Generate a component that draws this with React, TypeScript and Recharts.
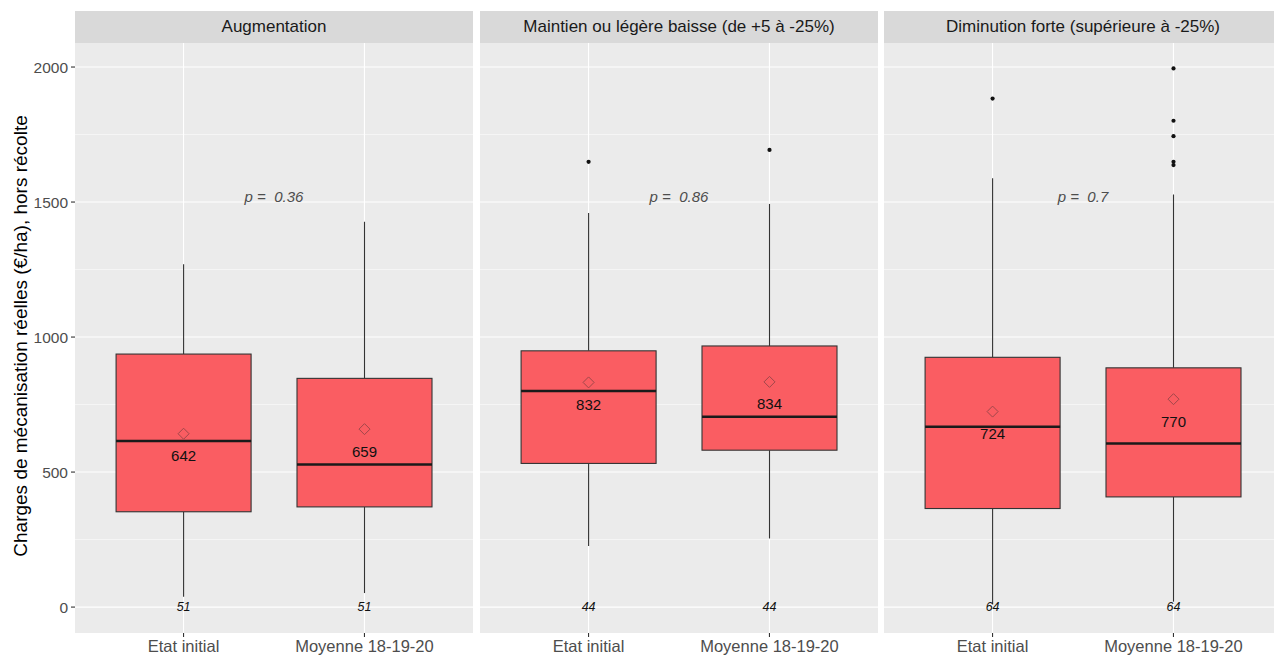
import React from 'react';
import { ComposedChart, Bar, XAxis, YAxis, CartesianGrid, ReferenceDot } from 'recharts';

// ---------- data ----------
const facets = [
  'Augmentation',
  'Maintien ou légère baisse (de +5 à -25%)',
  'Diminution forte (supérieure à -25%)',
];
const categories = ['Etat initial', 'Moyenne 18-19-20'];
const positions = [1, 2];

const whiskerLow = [[38, 52], [226, 254], [10, 20]];
const q1 = [[353, 371], [532, 581], [365, 408]];
const median = [[615, 528], [800, 705], [668, 606]];
const q3 = [[937, 847], [949, 967], [925, 886]];
const whiskerHigh = [[1270, 1427], [1459, 1493], [1588, 1528]];
const means = [[642, 659], [832, 834], [724, 770]];
const counts = [[51, 51], [44, 44], [64, 64]];
const outliers = [
  [[], []],
  [[1649], [1693]],
  [[1883], [1995, 1801, 1744, 1649, 1637]],
];
const pValues = ['0.36', '0.86', '0.7'];
const pLabelY = 1520;

const yTicks = [0, 500, 1000, 1500, 2000];
const yMinor = [250, 750, 1250, 1750];
const yDomain: [number, number] = [-96, 2089];
const xDomain: [number, number] = [0.4, 2.6];

// ---------- layout ----------
const FONT = '"Liberation Sans", Arial, Helvetica, sans-serif';
const panelLefts = [75, 480, 884];
const panelWidth = 398;
const plotTop = 43;
const xAxisHeight = 25;
const yAxisWidth = 75;
const chartHeight = 658;

const BOX_FILL = '#FA5D62';
const LINE = '#333333';

function buildRows(f: number) {
  return categories.map((c, i) => ({
    pos: positions[i],
    category: c,
    range: [whiskerLow[f][i], whiskerHigh[f][i]],
    low: whiskerLow[f][i],
    high: whiskerHigh[f][i],
    q1: q1[f][i],
    q3: q3[f][i],
    median: median[f][i],
    mean: means[f][i],
    n: counts[f][i],
    outliers: outliers[f][i],
  }));
}

const BoxShape = (props: any) => {
  const { x, y, width, height, payload } = props;
  if (!payload || x == null || y == null) return null;
  const top = Math.min(y, y + height);
  const bottom = Math.max(y, y + height);
  const lo = payload.low;
  const hi = payload.high;
  const py = (v: number) => bottom - ((bottom - top) * (v - lo)) / (hi - lo);
  const cx = x + width / 2;
  const yq1 = py(payload.q1);
  const yq3 = py(payload.q3);
  const ym = py(payload.median);
  const ymean = py(payload.mean);
  const y0 = py(0);
  const d = 5.5;
  return (
    <g>
      <line x1={cx} x2={cx} y1={py(hi)} y2={yq3} stroke={LINE} strokeWidth={1.1} />
      <line x1={cx} x2={cx} y1={yq1} y2={py(lo)} stroke={LINE} strokeWidth={1.1} />
      <rect x={x} y={yq3} width={width} height={yq1 - yq3} fill={BOX_FILL} stroke={LINE} strokeWidth={1.1} />
      <line x1={x} x2={x + width} y1={ym} y2={ym} stroke="#1A1A1A" strokeWidth={2.6} />
      {payload.outliers.map((o: number, k: number) => (
        <circle key={k} cx={cx} cy={py(o)} r={2.1} fill="#111111" />
      ))}
      <path
        d={`M${cx},${ymean - d} L${cx + d},${ymean} L${cx},${ymean + d} L${cx - d},${ymean} Z`}
        fill="none"
        stroke="#A0474A"
        strokeWidth={1}
      />
      <text
        x={cx}
        y={ymean + 22}
        textAnchor="middle"
        dominantBaseline="central"
        fontSize={15}
        fontFamily={FONT}
        fill="#111111"
      >
        {Math.round(payload.mean)}
      </text>
      <text
        x={cx}
        y={y0}
        textAnchor="middle"
        dominantBaseline="central"
        fontSize={12.5}
        fontStyle="italic"
        fontFamily={FONT}
        fill="#111111"
      >
        {payload.n}
      </text>
    </g>
  );
};

const PText = (label: string) => (props: any) => {
  const { cx, cy } = props;
  if (cx == null || cy == null) return null;
  return (
    <text
      x={cx}
      y={cy}
      textAnchor="middle"
      dominantBaseline="central"
      fontSize={15}
      fontStyle="italic"
      fontFamily={FONT}
      fill="#4D4D4D"
      style={{ whiteSpace: 'pre' }}
    >
      {`p = \u00a0${label}`}
    </text>
  );
};

function Panel({ f }: { f: number }) {
  const withY = f === 0;
  const rows = buildRows(f);
  const width = panelWidth + (withY ? yAxisWidth : 0);
  const left = withY ? panelLefts[0] - yAxisWidth : panelLefts[f];
  return (
    <div style={{ position: 'absolute', left, top: 0, width, height: chartHeight }}>
      <ComposedChart
        width={width}
        height={chartHeight}
        data={rows}
        margin={{ top: plotTop, right: 0, bottom: 0, left: 0 }}
      >
        <CartesianGrid
          fill="#EBEBEB"
          stroke="#FFFFFF"
          strokeWidth={0.55}
          horizontalValues={yMinor}
          vertical={false}
        />
        <CartesianGrid stroke="#FFFFFF" strokeWidth={1.1} horizontalValues={yTicks} verticalValues={positions} />
        <XAxis
          dataKey="pos"
          type="number"
          domain={xDomain}
          ticks={positions}
          interval={0}
          allowDataOverflow
          tickFormatter={(v: number) => categories[positions.indexOf(v)] ?? ''}
          axisLine={false}
          tickLine={{ stroke: LINE, strokeWidth: 1.1 }}
          tickSize={4}
          tickMargin={3}
          height={xAxisHeight}
          tick={{ fill: '#4D4D4D', fontSize: 16.5, fontFamily: FONT }}
        />
        <YAxis
          type="number"
          domain={yDomain}
          ticks={yTicks}
          interval={0}
          allowDataOverflow
          hide={!withY}
          width={yAxisWidth}
          axisLine={false}
          tickLine={{ stroke: LINE, strokeWidth: 1.1 }}
          tickSize={4}
          tickMargin={3}
          tick={{ fill: '#4D4D4D', fontSize: 15.5, fontFamily: FONT }}
        />
        <Bar dataKey="range" barSize={135} shape={BoxShape} isAnimationActive={false} />
        <ReferenceDot x={1.5} y={pLabelY} r={0} ifOverflow="visible" shape={PText(pValues[f])} />
      </ComposedChart>
    </div>
  );
}

export default function App() {
  return (
    <div
      style={{
        position: 'absolute',
        left: 0,
        top: 0,
        width: 1274,
        height: 658,
        overflow: 'hidden',
        background: '#FFFFFF',
        fontFamily: FONT,
      }}
    >
      {facets.map((_, f) => (
        <Panel key={f} f={f} />
      ))}
      {facets.map((name, f) => (
        <div
          key={'s' + f}
          style={{
            position: 'absolute',
            left: panelLefts[f],
            top: 11,
            width: panelWidth,
            height: plotTop - 11,
            background: '#D9D9D9',
            color: '#1A1A1A',
            fontSize: 17,
            display: 'flex',
            alignItems: 'center',
            justifyContent: 'center',
            whiteSpace: 'nowrap',
          }}
        >
          {name}
        </div>
      ))}
      <svg style={{ position: 'absolute', left: 0, top: 0 }} width={44} height={658}>
        <text
          x={20}
          y={336}
          transform="rotate(-90, 20, 336)"
          textAnchor="middle"
          dominantBaseline="central"
          fontSize={19}
          fontFamily={FONT}
          fill="#000000"
        >
          Charges de mécanisation réelles (€/ha), hors récolte
        </text>
      </svg>
    </div>
  );
}
